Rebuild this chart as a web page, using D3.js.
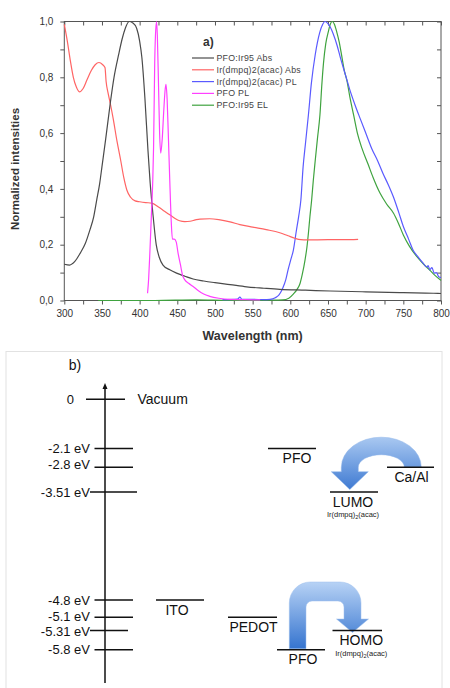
<!DOCTYPE html>
<html><head><meta charset="utf-8">
<script src="https://cdn.jsdelivr.net/npm/d3@7"></script>
<style>
html,body{margin:0;padding:0;background:#fff;}
svg{display:block;font-family:"Liberation Sans",Arial,sans-serif;}
</style></head>
<body><svg id="c" width="450" height="688"></svg>
<script>
// ---------------- DATA (panel a) ----------------
const xTicks = [300,350,400,450,500,550,600,650,700,750,800];
const yTicks = [0,0.2,0.4,0.6,0.8,1.0];
const seriesNames = ["PFO:Ir95 Abs","Ir(dmpq)2(acac) Abs","Ir(dmpq)2(acac) PL","PFO PL","PFO:Ir95 EL"];
const seriesColors = ["#4a4a4a","#ff6464","#5a5aff","#ff40ff","#3fa33f"];

const pfoIr95Abs = [[300,0.13],[307,0.127],[314,0.14],[321,0.169],[328,0.205],[334,0.253],[339,0.3],[343,0.36],[347,0.42],[350,0.48],[355,0.58],[361,0.707],[366,0.8],[372,0.88],[377,0.94],[381,0.976],[386,1.0],[391,0.995],[396,0.976],[400,0.93],[403,0.87],[407,0.725],[411,0.54],[414,0.42],[418,0.30],[422,0.2],[426,0.155],[431,0.127],[440,0.11],[449,0.098],[460,0.087],[471,0.077],[485,0.07],[500,0.064],[520,0.057],[542,0.049],[565,0.044],[586,0.04],[620,0.037],[653,0.034],[700,0.031],[750,0.028],[790,0.026],[800,0.025]];

const irAbs = [[300,0.99],[304,0.93],[308,0.86],[312,0.8],[316,0.765],[320,0.748],[325,0.76],[330,0.79],[336,0.825],[341,0.845],[346,0.853],[351,0.845],[354,0.835],[355.5,0.785],[358,0.745],[361,0.707],[365,0.65],[370,0.57],[375,0.5],[379,0.44],[383,0.396],[388,0.37],[394,0.357],[400,0.354],[408,0.351],[416,0.349],[425,0.335],[433,0.32],[440,0.307],[447,0.294],[453,0.286],[460,0.283],[467,0.284],[474,0.289],[480,0.292],[493,0.293],[505,0.29],[520,0.282],[533,0.272],[550,0.263],[568,0.254],[586,0.243],[597,0.232],[606,0.223],[614,0.218],[622,0.217],[650,0.218],[680,0.218],[690,0.219]];

const irPL = [[510,0.003],[530,0.005],[533,0.012],[536,0.004],[550,0.004],[565,0.003],[573,0.004],[580,0.01],[585,0.02],[590,0.045],[594,0.075],[597,0.11],[601,0.15],[604,0.18],[608,0.25],[611,0.3],[614,0.36],[617,0.48],[620,0.56],[624,0.665],[628,0.78],[633,0.88],[639,0.96],[643,0.99],[646,1.0],[649,0.995],[653,0.98],[657,0.955],[662,0.915],[667,0.865],[673,0.81],[679,0.755],[686,0.7],[693,0.65],[701,0.594],[708,0.545],[716,0.5],[723,0.455],[730,0.415],[737,0.37],[744,0.315],[750,0.265],[757,0.22],[763,0.18],[770,0.155],[776,0.135],[781,0.12],[783,0.125],[785,0.11],[788,0.118],[791,0.098],[794,0.1],[797,0.085],[800,0.082]];

const pfoPL = [[410.5,0.026],[412,0.08],[413.7,0.18],[415.5,0.3],[417.3,0.42],[418.5,0.55],[420,0.85],[421,0.95],[422.5,1.0],[423.5,0.95],[425,0.78],[426.5,0.6],[428,0.528],[430,0.58],[432,0.68],[434,0.76],[435,0.775],[436.5,0.72],[438,0.6],[440,0.43],[442,0.28],[443.5,0.22],[446,0.22],[448.5,0.21],[451,0.17],[454,0.13],[457,0.09],[460,0.074],[465,0.062],[471,0.05],[478,0.035],[485,0.023],[493,0.015],[505,0.008],[520,0.004],[540,0.003],[560,0.002]];

const pfoIr95EL = [[345,0],[420,0],[475,0.002],[520,0],[570,0.001],[590,0.002],[598,0.008],[604,0.023],[609,0.04],[613,0.062],[616,0.095],[619.5,0.145],[622,0.19],[624,0.241],[626,0.3],[628.3,0.36],[630.5,0.43],[633,0.5],[636,0.58],[639.3,0.665],[642,0.78],[644,0.85],[647,0.92],[650.5,0.964],[653,0.99],[655.7,1.0],[658.5,0.99],[661.5,0.964],[665,0.925],[668,0.88],[672,0.82],[675,0.79],[679,0.73],[684,0.665],[689,0.6],[695,0.546],[703,0.49],[710,0.44],[719,0.385],[728,0.345],[737,0.313],[743,0.28],[750,0.235],[758,0.195],[768,0.157],[777,0.13],[785,0.109],[792,0.09],[799,0.074],[800,0.072]];

// ---------------- DATA (panel b) ----------------
const energyLevels = [0,-2.1,-2.8,-3.51,-4.8,-5.1,-5.31,-5.8];
const energyLabels = ["0","-2.1 eV","-2.8 eV","-3.51 eV","-4.8 eV","-5.1 eV","-5.31 eV","-5.8 eV"];
const materialNames = ["PFO","Ca/Al","LUMO","ITO","PEDOT","PFO","HOMO"];
const materialEnergies = [-2.1,-2.8,-3.51,-4.8,-5.1,-5.8,-5.31];
const materialSubLabels = ["","","Ir(dmpq)|2|(acac)","","","","Ir(dmpq)|2|(acac)"];

// ---------------- DRAW panel a ----------------
const svg = d3.select("#c");
svg.append("rect").attr("width",450).attr("height",688).attr("fill","#fff");

const x = d3.scaleLinear().domain([300,800]).range([64.3,441]);
const y = d3.scaleLinear().domain([0,1]).range([300.5,21.5]);
const axisColor = "#555";
const fmt = d => d3.format(".1f")(d).replace(".",",");

const gA = svg.append("g");
const minorX = d3.range(300,801,25);
const minorY = d3.range(0,1.0001,0.1).map(v=>+v.toFixed(1));

function styleAxis(g){
  g.select(".domain").remove();
  g.selectAll("line").attr("stroke",axisColor);
  g.selectAll("text").attr("fill","#333").attr("font-size",10);
}
gA.append("g").attr("transform",`translate(0,${y(0)})`)
  .call(d3.axisBottom(x).tickValues(minorX).tickSize(4).tickPadding(5)
    .tickFormat(d => xTicks.includes(d) ? d : ""))
  .call(styleAxis);
gA.append("g").attr("transform",`translate(${x(300)},0)`)
  .call(d3.axisLeft(y).tickValues(minorY).tickSize(4).tickPadding(7)
    .tickFormat(d => yTicks.some(t=>Math.abs(t-d)<1e-6) ? fmt(d) : ""))
  .call(styleAxis);
gA.append("g").attr("transform",`translate(0,${y(1)})`)
  .call(d3.axisBottom(x).tickValues(minorX).tickSize(4).tickFormat(""))
  .call(styleAxis);
gA.append("g").attr("transform",`translate(${x(800)},0)`)
  .call(d3.axisLeft(y).tickValues(minorY).tickSize(4).tickFormat(""))
  .call(styleAxis);
gA.append("rect").attr("x",x(300)).attr("y",y(1))
  .attr("width",x(800)-x(300)).attr("height",y(0)-y(1))
  .attr("fill","none").attr("stroke",axisColor).attr("stroke-width",1);

const line = d3.line().x(d=>x(d[0])).y(d=>y(d[1])).curve(d3.curveMonotoneX);
const allSeries = [pfoIr95Abs, irAbs, irPL, pfoPL, pfoIr95EL];
const drawOrder = [4,2,1,0,3];
drawOrder.forEach(i=>{
  gA.append("path").datum(allSeries[i]).attr("d",line)
    .attr("fill","none").attr("stroke",seriesColors[i]).attr("stroke-width",1.2)
    .attr("stroke-linejoin","round");
});

// legend
gA.append("text").attr("x",203).attr("y",46).text("a)")
  .attr("font-size",12).attr("font-weight","bold").attr("fill","#333");
const lg = gA.append("g");
seriesNames.forEach((n,i)=>{
  const yy = 58 + i*11.8;
  lg.append("line").attr("x1",192).attr("x2",214).attr("y1",yy).attr("y2",yy)
    .attr("stroke",seriesColors[i]).attr("stroke-width",1.2);
  lg.append("text").attr("x",216.5).attr("y",yy).attr("dy","0.35em")
    .attr("font-size",8.8).attr("fill","#444").attr("letter-spacing",0.25).text(n);
});

// axis titles
gA.append("text").attr("transform",`translate(19,${(y(0)+y(1))/2+8}) rotate(-90)`)
  .attr("text-anchor","middle").attr("font-size",11.5).attr("font-weight","bold")
  .attr("fill","#333").text("Normalized intensities");
gA.append("text").attr("x",(x(300)+x(800))/2).attr("y",340)
  .attr("text-anchor","middle").attr("font-size",12.5).attr("font-weight","bold")
  .attr("fill","#333").text("Wavelength (nm)");

// ---------------- DRAW panel b ----------------
const gB = svg.append("g");
gB.append("rect").attr("x",6).attr("y",351.5).attr("width",436).attr("height",345)
  .attr("fill","none").attr("stroke","#e2e2e2").attr("stroke-width",1);
gB.append("text").attr("x",75).attr("y",370).attr("text-anchor","middle")
  .attr("font-size",14).attr("fill","#111").text("b)");

// broken (piecewise) energy scale
const yE = d3.scaleLinear()
  .domain([0,-2.1,-2.8,-3.51,-4.8,-5.1,-5.31,-5.8])
  .range([399.3,448.5,467.2,492,600,617.3,630.5,649.7]);

const axX = 105;
gB.append("line").attr("x1",axX).attr("x2",axX).attr("y1",387).attr("y2",683)
  .attr("stroke","#111").attr("stroke-width",1.5);
gB.append("path").attr("d",`M${axX},383 L${axX-2.5},389 L${axX+2.5},389 Z`).attr("fill","#111");

const tickStart = e => e===0 ? 86 : (e===-3.51||e===-5.31 ? 90 : 94.5);
const tickEnd = e => e===0 ? 125 : (e===-3.51 ? 137 : (e===-5.31 ? 128 : 133));
const labelShift = e => e===-2.8 ? -3 : (e===-5.1 ? -0.5 : (e===-5.31 ? 0.5 : 0));
energyLevels.forEach((e,i)=>{
  gB.append("line").attr("x1",tickStart(e)).attr("x2",tickEnd(e))
    .attr("y1",yE(e)).attr("y2",yE(e)).attr("stroke","#111").attr("stroke-width",1.6);
  gB.append("text").attr("x", e===0 ? 74 : 90).attr("y",yE(e) + labelShift(e))
    .attr("dy","0.35em").attr("text-anchor","end").attr("font-size",13)
    .attr("fill","#111").text(energyLabels[i]);
});
gB.append("text").attr("x",137.5).attr("y",yE(0)).attr("dy","0.35em")
  .attr("font-size",14).attr("fill","#111").text("Vacuum");

// arrows (behind material lines)
const defs = svg.append("defs");
function grad(id, c1, c2){
  const g = defs.append("linearGradient").attr("id",id).attr("x1",0).attr("y1",0).attr("x2",0).attr("y2",1);
  g.append("stop").attr("offset","0%").attr("stop-color",c1);
  g.append("stop").attr("offset","100%").attr("stop-color",c2);
}
grad("gTop","#a9c8f1","#3f7ad2");
grad("gBot","#b7d2f5","#3574cf");

// top U-turn arrow: Ca/Al -> LUMO
(function(){
  const cy = yE(-2.8), cx = 381.3;
  const oRx = 40, oRy = 30, iRx = 23, iRy = 12.5;
  const base = cy + 4.5, tipY = yE(-3.51) - 2.5, hw = 18.5;
  const lx = cx - oRx + 8.5;
  const d = `M${cx+oRx},${cy} A${oRx},${oRy} 0 0 0 ${cx-oRx},${cy} L${cx-oRx},${base} L${lx-hw},${base} L${lx},${tipY} L${lx+hw},${base} L${cx-iRx},${base} L${cx-iRx},${cy} A${iRx},${iRy} 0 0 1 ${cx+iRx},${cy} Z`;
  gB.append("path").attr("d",d).attr("fill","url(#gTop)").attr("stroke","#8fb4e8").attr("stroke-width",0.5);
})();
// bottom U-turn arrow: PFO HOMO -> Ir HOMO
(function(){
  const p = d3.path();
  const L0 = 289.3, L1 = 306, R0 = 344, R1 = 361;
  const top = 582, itop = 601, bot = yE(-5.8) - 1;
  const base = 619, tip = yE(-5.31) + 2, mid = (R0+R1)/2;
  p.moveTo(L0,bot); p.lineTo(L0,603); p.arcTo(L0,top,L0+21,top,21);
  p.lineTo(R1-21,top); p.arcTo(R1,top,R1,top+21,21);
  p.lineTo(R1,base); p.lineTo(mid+16,base); p.lineTo(mid,tip); p.lineTo(mid-16,base);
  p.lineTo(R0,base); p.lineTo(R0,itop+6); p.arcTo(R0,itop,R0-6,itop,6);
  p.lineTo(L1+6,itop); p.arcTo(L1,itop,L1,itop+6,6); p.lineTo(L1,bot); p.closePath();
  gB.append("path").attr("d",p.toString()).attr("fill","url(#gBot)").attr("stroke","#9dbfed").attr("stroke-width",0.5);
})();

// material levels
const matX1 = [268,387,330,156,228,277,332.5];
const matX2 = [316,434,378,204,277,325,382];
const labelDx = [5,1,-1,-3,1,2,4];
materialNames.forEach((n,i)=>{
  const yy = yE(materialEnergies[i]);
  gB.append("line").attr("x1",matX1[i]).attr("x2",matX2[i]).attr("y1",yy).attr("y2",yy)
    .attr("stroke","#111").attr("stroke-width",1.6);
  gB.append("text").attr("x",(matX1[i]+matX2[i])/2 + labelDx[i]).attr("y",yy+14.5)
    .attr("text-anchor","middle").attr("font-size",14).attr("fill","#111").text(n);
  if(materialSubLabels[i]){
    const parts = materialSubLabels[i].split("|");
    const t = gB.append("text").attr("x",(matX1[i]+matX2[i])/2 + labelDx[i]).attr("y",yy+25)
      .attr("text-anchor","middle").attr("font-size",7.5).attr("fill","#222");
    t.append("tspan").text(parts[0]);
    t.append("tspan").attr("font-size",5.5).attr("dy",2).text(parts[1]);
    t.append("tspan").attr("dy",-2).text(parts[2]);
  }
});
</script></body></html>
